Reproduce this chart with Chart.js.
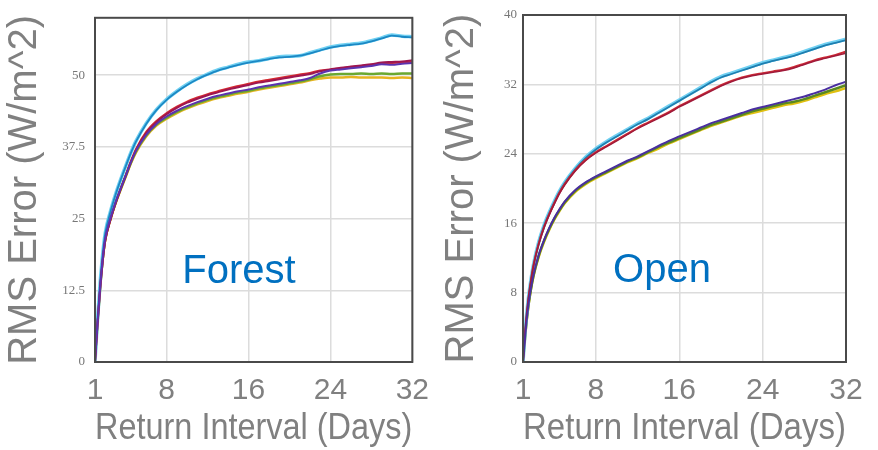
<!DOCTYPE html>
<html><head><meta charset="utf-8">
<script src="https://cdn.jsdelivr.net/npm/chart.js@4.4.0/dist/chart.umd.min.js"></script>
<style>
html,body{margin:0;padding:0;background:#fff;width:878px;height:450px;overflow:hidden}
.box{position:absolute;top:0;height:450px}
</style></head><body>
<div class="box" style="left:0;width:440px"><canvas id="forest" width="440" height="450"></canvas></div>
<div class="box" style="left:440px;width:438px"><canvas id="open" width="438" height="450"></canvas></div>
<script>
// Return interval (days) at which errors were sampled
const returnDays = [1,1.25,1.5,1.75,2,2.5,3,3.5,4,4.5,5,6,7,8,9,10,11,12,13,14,15,16,17,18,19,20,21,22,23,24,25,26,27,28,29,30,31,32];
const xTickValues = [1,8,16,24,32];
const forestYTicks = [0,12.5,25,37.5,50];
const openYTicks = [0,8,16,24,32,40];

// Forest RMS error (W/m^2)
const forestBlue    = [0,7.4,13.7,18.7,22.4,26.1,29.1,31.7,34.1,36.4,38.4,41.5,43.9,45.7,47.1,48.3,49.3,50.1,50.8,51.3,51.8,52.2,52.5,52.8,53.1,53.2,53.4,53.8,54.3,54.8,55.1,55.3,55.5,55.9,56.4,56.9,56.7,56.6];
const forestCyan    = [0,7.5,13.8,18.8,22.5,26.2,29.2,31.8,34.2,36.5,38.5,41.6,44.0,45.8,47.2,48.4,49.4,50.2,50.9,51.4,51.9,52.3,52.5,52.9,53.2,53.3,53.4,53.9,54.4,54.9,55.2,55.4,55.6,56.0,56.5,57.0,56.8,56.7];
const forestOrange  = [0,6.8,12.8,17.6,21.2,24.8,27.7,30.2,32.6,35.0,37.1,40.1,42.0,43.4,44.5,45.4,46.1,46.7,47.2,47.7,48.1,48.5,48.9,49.2,49.5,49.8,50.1,50.4,50.8,51.0,51.2,51.4,51.6,51.8,52.0,52.1,52.2,52.3];
const forestDarkRed = [0,6.7,12.7,17.5,21.1,24.7,27.6,30.1,32.4,34.8,36.9,39.9,41.8,43.2,44.3,45.2,45.9,46.5,47.0,47.5,47.9,48.3,48.7,49.0,49.3,49.6,49.9,50.2,50.7,51.0,51.3,51.5,51.7,51.9,52.2,52.3,52.4,52.6];
const forestPurple  = [0,7.0,13.0,18.0,21.5,25.0,27.8,30.2,32.5,34.8,36.8,39.6,41.5,42.8,43.8,44.6,45.3,45.9,46.4,46.8,47.2,47.5,47.9,48.2,48.5,48.8,49.1,49.5,50.3,50.8,51.0,51.2,51.4,51.6,51.9,51.8,52.0,52.1];
const forestGreen   = [0,6.9,12.9,17.9,21.4,24.9,27.7,30.1,32.4,34.7,36.7,39.5,41.4,42.6,43.6,44.4,45.1,45.7,46.2,46.6,47.0,47.3,47.7,48.0,48.3,48.6,48.9,49.3,49.8,50.1,50.2,50.2,50.3,50.2,50.3,50.2,50.3,50.3];
const forestYellow  = [0,6.8,12.8,17.8,21.3,24.8,27.6,30.0,32.3,34.6,36.5,39.3,41.2,42.4,43.4,44.2,44.9,45.5,46.0,46.4,46.8,47.1,47.5,47.8,48.1,48.4,48.7,49.1,49.4,49.6,49.6,49.7,49.6,49.6,49.6,49.5,49.6,49.5];

// Open RMS error (W/m^2)
const openBlue    = [0,4.1,7.1,9.3,11.1,13.7,15.6,17.1,18.4,19.6,20.6,22.2,23.5,24.5,25.3,26.0,26.7,27.4,28.0,28.7,29.4,30.1,30.8,31.5,32.2,32.8,33.2,33.6,34.0,34.4,34.7,35.0,35.3,35.7,36.1,36.5,36.8,37.1];
const openCyan    = [0,4.2,7.2,9.4,11.2,13.8,15.7,17.2,18.5,19.7,20.7,22.3,23.6,24.6,25.4,26.1,26.8,27.5,28.1,28.8,29.5,30.2,30.9,31.6,32.3,32.9,33.3,33.7,34.1,34.5,34.8,35.1,35.4,35.8,36.2,36.6,36.9,37.2];
const openOrange  = [0,4.1,7.1,9.3,11.1,13.6,15.5,17.0,18.3,19.5,20.5,22.1,23.3,24.2,24.9,25.6,26.3,27.0,27.6,28.2,28.8,29.5,30.1,30.7,31.3,31.9,32.4,32.8,33.1,33.3,33.5,33.7,34.0,34.4,34.8,35.1,35.4,35.8];
const openDarkRed = [0,4.0,7.0,9.2,11.0,13.5,15.4,16.9,18.2,19.4,20.4,22.0,23.2,24.1,24.8,25.5,26.2,26.9,27.5,28.1,28.7,29.4,30.0,30.6,31.2,31.8,32.3,32.7,33.0,33.2,33.4,33.6,33.9,34.3,34.7,35.0,35.3,35.6];
const openPurple  = [0,3.6,6.4,8.4,10.0,12.3,14.0,15.4,16.6,17.6,18.5,19.8,20.7,21.4,22.0,22.6,23.2,23.7,24.3,24.9,25.5,26.0,26.5,27.0,27.5,27.9,28.3,28.7,29.1,29.4,29.7,30.0,30.3,30.6,31.0,31.4,31.9,32.3];
const openGreen   = [0,3.6,6.3,8.3,9.9,12.2,13.9,15.3,16.5,17.5,18.4,19.7,20.6,21.3,21.9,22.5,23.1,23.6,24.2,24.8,25.3,25.8,26.3,26.8,27.3,27.7,28.1,28.5,28.9,29.2,29.5,29.8,30.0,30.3,30.7,31.1,31.5,31.9];
const openYellow  = [0,3.5,6.3,8.3,9.9,12.1,13.8,15.2,16.4,17.4,18.3,19.6,20.5,21.2,21.8,22.4,23.0,23.5,24.1,24.6,25.2,25.7,26.2,26.7,27.2,27.6,28.0,28.4,28.7,29.0,29.3,29.6,29.8,30.1,30.5,30.9,31.2,31.6];

const GRAY = '#808080';
const SANS = '"Liberation Sans", Arial, sans-serif';

const framePlugin = {
  id: 'frame',
  afterDatasetsDraw(chart, args, opts) {
    const {ctx, chartArea: a, scales} = chart;
    ctx.save();
    ctx.strokeStyle = '#4a4a4a';
    ctx.lineWidth = 2;
    ctx.strokeRect(a.left, a.top, a.right - a.left, a.bottom - a.top);
    ctx.font = '40px ' + SANS;
    ctx.fillStyle = '#0070c0';
    ctx.textAlign = 'center';
    ctx.textBaseline = 'middle';
    ctx.fillText(opts.text, scales.x.getPixelForValue(opts.x), scales.y.getPixelForValue(opts.y));
    ctx.restore();
  }
};

function makeChart(id, cfg) {
  const datasets = cfg.series.map(s => ({
    label: s.name,
    data: returnDays.map((d, i) => ({x: d, y: s.values[i]})),
    borderColor: s.color,
    borderWidth: s.width,
    pointRadius: 0,
    fill: false,
    cubicInterpolationMode: 'monotone'
  }));
  return new Chart(document.getElementById(id), {
    type: 'line',
    data: {datasets},
    plugins: [framePlugin],
    options: {
      responsive: false,
      animation: false,
      layout: {padding: {top: 15, right: cfg.padRight, left: 0, bottom: 0}},
      plugins: {
        legend: {display: false},
        tooltip: {enabled: false},
        frame: {text: cfg.label, x: cfg.labelX, y: cfg.labelY}
      },
      scales: {
        x: {
          type: 'linear', min: 1, max: 32,
          afterBuildTicks: s => { s.ticks = xTickValues.map(v => ({value: v})); },
          afterFit: s => { s.height = 88; },
          grid: {color: '#dcdcdc', lineWidth: 1.5, drawTicks: false},
          border: {display: false},
          ticks: {color: GRAY, padding: 11, autoSkip: false, maxRotation: 0,
                  font: {family: SANS, size: 30, lineHeight: 1.2}},
          title: {display: true, text: 'Return Interval (Days)', color: GRAY,
                  font: {family: SANS, size: 36, lineHeight: 1}, padding: {top: 0, bottom: 3}}
        },
        y: {
          type: 'linear', min: 0, max: cfg.yMax,
          afterBuildTicks: s => { s.ticks = cfg.yTicks.map(v => ({value: v})); },
          afterFit: s => { s.width = cfg.yWidth; },
          grid: {color: '#dcdcdc', lineWidth: 1.5, drawTicks: false},
          border: {display: false},
          ticks: {color: '#777', padding: cfg.yTickPad, autoSkip: false,
                  font: {family: '"Liberation Serif", serif', size: 13}},
          title: {display: true, text: 'RMS Error (W/m^2)', color: GRAY,
                  font: {family: SANS, size: 40, lineHeight: 1}, padding: {top: cfg.yTitlePad, bottom: 0}}
        }
      }
    }
  });
}

makeChart('forest', {
  label: 'Forest', labelX: 15.06, labelY: 15.7,
  yMax: 60, yTicks: forestYTicks, yWidth: 95, yTickPad: 10, yTitlePad: 5, padRight: 23,
  series: [
    {name: 'Purple', values: forestPurple, color: '#5b33b0', width: 2},
    {name: 'Dark red', values: forestDarkRed, color: '#9e1650', width: 2},
    {name: 'Red', values: forestOrange, color: '#d42a30', width: 2},
    {name: 'Blue', values: forestBlue, color: '#1c88c4', width: 1.8},
    {name: 'Cyan', values: forestCyan, color: '#6fd0f2', width: 3.5},
    {name: 'Green', values: forestGreen, color: '#6aa830', width: 2.5},
    {name: 'Yellow', values: forestYellow, color: '#e6b420', width: 2.5}
  ]
});

makeChart('open', {
  label: 'Open', labelX: 14.34, labelY: 10.5,
  yMax: 40, yTicks: openYTicks, yWidth: 83, yTickPad: 6, yTitlePad: 2, padRight: 32,
  series: [
    {name: 'Purple', values: openPurple, color: '#4a2fa0', width: 2},
    {name: 'Dark red', values: openDarkRed, color: '#a01a3a', width: 1.5},
    {name: 'Red', values: openOrange, color: '#cc2a35', width: 2},
    {name: 'Blue', values: openBlue, color: '#1f7fb0', width: 1.8},
    {name: 'Cyan', values: openCyan, color: '#6fd0f2', width: 3.5},
    {name: 'Green', values: openGreen, color: '#5a8a20', width: 2.5},
    {name: 'Yellow', values: openYellow, color: '#e0c010', width: 2.5}
  ]
});
</script>
</body></html>
